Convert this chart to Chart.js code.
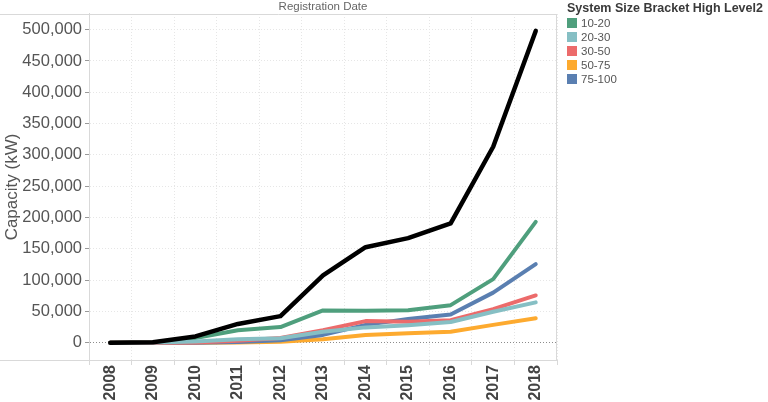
<!DOCTYPE html>
<html>
<head>
<meta charset="utf-8">
<script src="https://cdn.jsdelivr.net/npm/chart.js@4"></script>
<style>
  body { margin: 0; background: #fff; }
  #wrap { position: relative; width: 768px; height: 402px; }
  #legend { position: absolute; left: 567px; top: 0; font-family: "Liberation Sans", Arial, sans-serif; }
  #legend .title { font-size: 12.5px; font-weight: bold; color: #3a3a3a; line-height: 16px; height: 16px; white-space: nowrap; }
  #legend .item { height: 14px; font-size: 11.5px; color: #555; line-height: 14px; white-space: nowrap; }
  #legend .box { display: inline-block; width: 10px; height: 10px; margin-right: 4px; vertical-align: -1px; }
</style>
</head>
<body>
<div id="wrap">
  <canvas id="chart" width="768" height="402"></canvas>
  <div id="legend"></div>
</div>
<script>
// categorias (años de registro)
const years = ["2008", "2009", "2010", "2011", "2012", "2013", "2014", "2015", "2016", "2017", "2018"];

// capacidad en kW
const total = [0, 800, 10000, 30000, 42500, 107500, 152500, 167000, 190500, 313000, 498000];
const size10_20 = [0, 500, 7500, 20000, 25000, 51500, 51000, 52000, 60000, 101500, 193000];
const size20_30 = [0, 200, 2000, 5500, 7000, 17500, 24500, 28000, 33000, 49500, 64500];
const size30_50 = [0, 100, 300, 3000, 7500, 20000, 34500, 33500, 36000, 53500, 75500];
const size50_75 = [0, 0, 100, 300, 1500, 5500, 12500, 15000, 17500, 28500, 39000];
const size75_100 = [0, 0, 100, 1200, 4000, 12500, 28500, 38000, 45000, 80000, 125500];

const yTicks = [0, 50000, 100000, 150000, 200000, 250000, 300000, 350000, 400000, 450000, 500000];

const legendLabels = ["10-20", "20-30", "30-50", "50-75", "75-100"];
const legendColors = ["#4f9f7d", "#86bfc4", "#ec6b6b", "#fdaa2f", "#5a7fb1"];

const font = "'Liberation Sans', Arial, sans-serif";

// leyenda en html
const legendEl = document.getElementById("legend");
legendEl.innerHTML = '<div class="title">System Size Bracket High Level2</div>';
legendLabels.forEach(function (label, i) {
    const row = document.createElement("div");
    row.className = "item";
    row.innerHTML = '<span class="box" style="background:' + legendColors[i] + '"></span>' + label;
    legendEl.appendChild(row);
});

// marco del area del grafico (lineas de arriba y abajo hasta el borde izquierdo)
const framePlugin = {
    id: "frame",
    afterDraw(chart) {
        const { ctx, chartArea } = chart;
        ctx.save();
        ctx.strokeStyle = "#d9d9d9";
        ctx.lineWidth = 1;
        ctx.beginPath();
        ctx.moveTo(0, Math.round(chartArea.top) + 0.5);
        ctx.lineTo(chartArea.right, Math.round(chartArea.top) + 0.5);
        ctx.moveTo(Math.round(chartArea.right) - 0.5, chartArea.top);
        ctx.lineTo(Math.round(chartArea.right) - 0.5, chartArea.bottom);
        ctx.moveTo(0, Math.round(chartArea.bottom) + 0.5);
        ctx.lineTo(chartArea.right, Math.round(chartArea.bottom) + 0.5);
        ctx.stroke();
        ctx.restore();
    }
};

function line(label, data, color, width) {
    return {
        label: label,
        data: data,
        borderColor: color,
        backgroundColor: color,
        borderWidth: width,
        pointRadius: 0,
        tension: 0,
        fill: false,
        borderCapStyle: "round",
        borderJoinStyle: "round"
    };
}

const data = {
    labels: years,
    datasets: [
        line("Total", total, "#000000", 4.5),
        line("20-30", size20_30, legendColors[1], 4),
        line("30-50", size30_50, legendColors[2], 4),
        line("75-100", size75_100, legendColors[4], 4),
        line("50-75", size50_75, legendColors[3], 4),
        line("10-20", size10_20, legendColors[0], 4)
    ]
};

const config = {
    type: "line",
    data: data,
    options: {
        responsive: false,
        animation: false,
        layout: { padding: { left: 0, right: 211, top: 0, bottom: 0 } },
        plugins: {
            legend: { display: false },
            tooltip: { enabled: false },
            title: {
                display: true,
                text: "Registration Date",
                fullSize: false,
                color: "#666",
                font: { family: font, size: 11.5, weight: "normal" },
                padding: { top: 0, bottom: 0.2 }
            }
        },
        scales: {
            x: {
                type: "category",
                offset: true,
                grid: {
                    offset: true,
                    color: "#e6e6e6",
                    tickColor: "#d9d9d9",
                    tickLength: 5,
                    tickBorderDash: []
                },
                border: { display: false, dash: [1, 2] },
                ticks: {
                    minRotation: 90,
                    maxRotation: 90,
                    padding: 0,
                    color: "#444",
                    font: { family: font, size: 16, weight: "bold" }
                },
                afterFit(scale) {
                    scale.height = 42;
                }
            },
            y: {
                min: -27600,
                max: 525000,
                afterBuildTicks(scale) {
                    scale.ticks = yTicks.map((v) => ({ value: v }));
                },
                grid: {
                    color: (ctx) => (ctx.tick && ctx.tick.value === 0 ? "#8c8c8c" : "#e6e6e6"),
                    tickColor: "#999",
                    tickLength: 4,
                    tickBorderDash: []
                },
                border: { display: true, color: "#d9d9d9", dash: [1, 2] },
                ticks: {
                    padding: 3,
                    color: "#555",
                    font: { family: font, size: 16.5 },
                    callback: (v) => v.toLocaleString("en-US")
                },
                title: {
                    display: true,
                    text: "Capacity (kW)",
                    color: "#555",
                    font: { family: font, size: 17 },
                    padding: { top: 2, bottom: 0 }
                },
                afterFit(scale) {
                    scale.width = 89;
                }
            }
        }
    },
    plugins: [framePlugin]
};

let myChart = new Chart(document.getElementById("chart"), config);
</script>
</body>
</html>
